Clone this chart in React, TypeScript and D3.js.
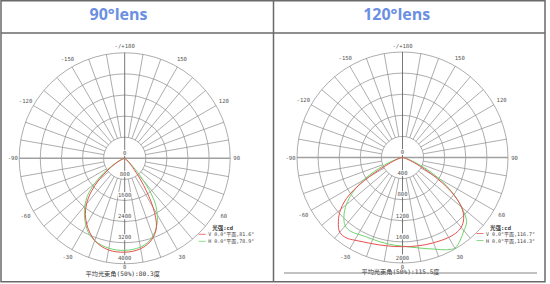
import React from "react";
import * as d3 from "d3";

const titles = ["90°lens", "120°lens"];
const angles = [-90, -85, -80, -75, -70, -65, -60, -55, -50, -45, -40, -35, -30, -25, -20, -15, -10, -5, 0, 5, 10, 15, 20, 25, 30, 35, 40, 45, 50, 55, 60, 65, 70, 75, 80, 85, 90];

// 90° lens (max 4000 cd)
const leftV = [0, 0, 0, 20, 80, 200, 420, 780, 1280, 1800, 2250, 2600, 2880, 3120, 3320, 3450, 3530, 3560, 3560, 3540, 3480, 3370, 3180, 2850, 2150, 1250, 560, 240, 90, 30, 0, 0, 0, 0, 0, 0, 0];
const leftH = [0, 0, 0, 30, 100, 260, 520, 980, 1480, 1980, 2350, 2660, 2940, 3180, 3320, 3410, 3460, 3490, 3490, 3470, 3420, 3320, 3130, 2860, 2470, 1950, 1100, 450, 160, 50, 0, 0, 0, 0, 0, 0, 0];
// 120° lens (max 2000 cd)
const rightV = [0, 0, 30, 60, 140, 300, 720, 1230, 1530, 1720, 1850, 1860, 1810, 1765, 1735, 1715, 1700, 1695, 1690, 1695, 1700, 1710, 1720, 1735, 1750, 1755, 1730, 1640, 1460, 1120, 660, 300, 120, 60, 30, 0, 0];
const rightH = [0, 0, 20, 80, 250, 500, 850, 1150, 1390, 1570, 1690, 1710, 1680, 1655, 1650, 1655, 1660, 1670, 1680, 1705, 1740, 1790, 1850, 1930, 1985, 1910, 1810, 1720, 1460, 1150, 800, 450, 200, 80, 50, 20, 0];

const leftRings = ["800", "1600", "2400", "3200", "4000"];
const rightRings = ["400", "800", "1200", "1600", "2000"];
const angleLabels = [180, 150, 120, 90, 60, 30, 0, -30, -60, -90, -120, -150];
const legendNames = ["V 0.0°平面", "H 0.0°平面"];
const leftBeams = ["81.6°", "78.9°"];
const rightBeams = ["116.7°", "114.3°"];
const bottomTexts = ["平均光束角(50%):80.3度", "平均光束角(50%):115.5度"];

const R = 105.5;
const monoFont = "'DejaVu Sans Mono', 'Noto Sans CJK SC', monospace";
const cjkFont = "'DejaVu Sans Mono', 'Noto Sans CJK SC', sans-serif";

function PolarChart({ cx, cy, rings, maxVal, vData, hData, beams, bottomText, bottomDy }) {
  const r = d3.scaleLinear().domain([0, maxVal]).range([0, R]);
  const toRad = (deg: number) => Math.PI - (deg * Math.PI) / 180;
  const line = d3
    .lineRadial<number>()
    .angle((_, i) => toRad(angles[i]))
    .radius((d) => r(d))
    .curve(d3.curveCatmullRom.alpha(0.5));
  const ringRadii = rings.map((_, i) => (R * (i + 1)) / rings.length);
  const spokes = d3.range(-170, 190, 10).filter((a) => a % 90 !== 0);
  const gridColor = "#8a8a8a";
  return (
    <g transform={`translate(${cx},${cy})`}>
      {ringRadii.map((rr, i) => (
        <circle key={i} r={rr} fill="none" stroke={gridColor} strokeWidth={0.7} />
      ))}
      {spokes.map((a) => {
        const t = toRad(a);
        const r0 = ringRadii[0];
        return (
          <line key={a} x1={r0 * Math.sin(t)} y1={-r0 * Math.cos(t)} x2={R * Math.sin(t)} y2={-R * Math.cos(t)} stroke={gridColor} strokeWidth={0.7} />
        );
      })}
      <line x1={-R} y1={0} x2={R} y2={0} stroke="#a0a0a0" strokeWidth={1.6} />
      <line x1={0} y1={-R} x2={0} y2={R} stroke="#555" strokeWidth={0.8} />
      {angleLabels.map((a) => {
        const t = toRad(a);
        const lr = a % 90 === 0 ? 112 : 114.5;
        const txt = a === 180 ? "-/+180" : String(a);
        const yy = a === 0 ? 109 : -lr * Math.cos(t);
        return (
          <text key={a} x={lr * Math.sin(t)} y={yy} fontSize={5.6} fontFamily={monoFont} fill="#555" textAnchor="middle" dominantBaseline="central">
            {txt}
          </text>
        );
      })}
      {[{ t: "0", rr: 0 }, ...rings.map((t, i) => ({ t, rr: ringRadii[i] }))].map((d, i) => (
        <g key={i}>
          <rect x={-d.t.length * 1.7} y={d.rr - 8.5} width={d.t.length * 3.4} height={6} fill="#fff" />
          <text x={0} y={d.rr - 3.3} fontSize={5.6} fontFamily={monoFont} fill="#555" textAnchor="middle">
            {d.t}
          </text>
        </g>
      ))}
      <path d={line(hData) || ""} fill="none" stroke="#6fd56f" strokeWidth={1} />
      <path d={line(vData) || ""} fill="none" stroke="#e85050" strokeWidth={1} />
      <text x={98} y={70} fontSize={5.5} fontFamily={cjkFont} fontWeight="bold" fill="#333" textAnchor="middle" dominantBaseline="central">
        光强:cd
      </text>
      {legendNames.map((n, i) => (
        <g key={n}>
          <line x1={74} x2={81} y1={76 + i * 7} y2={76 + i * 7} stroke={i === 0 ? "#e85050" : "#6fd56f"} strokeWidth={0.8} />
          <text x={83.5} y={76 + i * 7} fontSize={5} fontFamily={cjkFont} fill="#444" dominantBaseline="central">
            {`${n},${beams[i]}`}
          </text>
        </g>
      ))}
      <text x={-2} y={bottomDy} fontSize={6.2} fontFamily={cjkFont} fill="#333" textAnchor="middle">
        {bottomText}
      </text>
    </g>
  );
}

export default function App() {
  const border = "#6a6a6a";
  return (
    <svg width={550} height={284} style={{ position: "absolute", left: 0, top: 0, background: "#fff" }}>
      <rect x={0} y={0} width={550} height={284} fill="#fff" />
      <rect x={1} y={0.75} width={544} height={281} fill="none" stroke={border} strokeWidth={1.5} />
      <line x1={1} x2={545} y1={33} y2={33} stroke={border} strokeWidth={1.3} />
      <line x1={273.5} x2={273.5} y1={0} y2={282} stroke={border} strokeWidth={1.5} />
      <text x={118.5} y={20} fontSize={16} fontWeight="bold" fontFamily="'Open Sans', sans-serif" fill="#6b8fe2" textAnchor="middle">
        {titles[0]}
      </text>
      <text x={396.7} y={20} fontSize={16} fontWeight="bold" fontFamily="'Open Sans', sans-serif" fill="#6b8fe2" textAnchor="middle">
        {titles[1]}
      </text>
      <PolarChart cx={124.7} cy={158.3} rings={leftRings} maxVal={4000} vData={leftV} hData={leftH} beams={leftBeams} bottomText={bottomTexts[0]} bottomDy={118} />
      <PolarChart cx={402.5} cy={157.5} rings={rightRings} maxVal={2000} vData={rightV} hData={rightH} beams={rightBeams} bottomText={bottomTexts[1]} bottomDy={116.5} />
      <line x1={284} x2={537} y1={273} y2={273} stroke="#777" strokeWidth={0.9} />
    </svg>
  );
}
